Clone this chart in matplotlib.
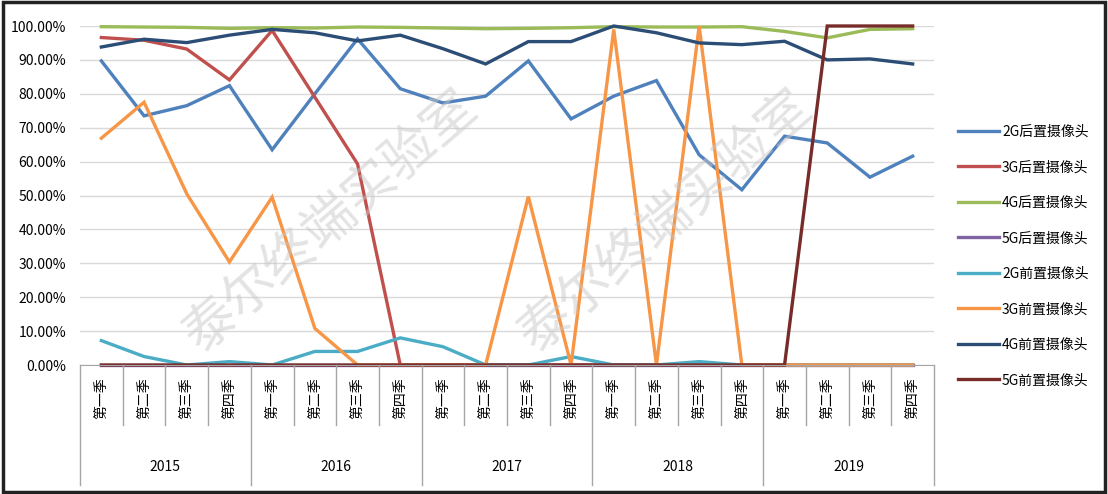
import matplotlib
matplotlib.use("Agg")
import matplotlib.pyplot as plt
import matplotlib.transforms as mtransforms
from matplotlib.ticker import FuncFormatter
from matplotlib.patches import Rectangle

plt.rcParams['font.family'] = ['Noto Sans CJK SC', 'DejaVu Sans']

years = ['2015', '2016', '2017', '2018', '2019']
quarters = ['第一季', '第二季', '第三季', '第四季']

# values in %, one per quarter 2015Q1 .. 2019Q4
rear_2g = [89.7, 73.5, 76.5, 82.4, 63.5, 80.0, 96.2, 81.5, 77.3, 79.3,
           89.7, 72.6, 79.3, 83.9, 62.0, 51.7, 67.5, 65.5, 55.4, 61.6]
rear_3g = [96.6, 95.8, 93.2, 84.1, 98.7, 79.0, 59.3, 0, 0, 0,
           0, 0, 0, 0, 0, 0, 0, 0, 0, 0]
rear_4g = [99.8, 99.7, 99.6, 99.3, 99.5, 99.4, 99.7, 99.6, 99.4, 99.2,
           99.3, 99.5, 99.8, 99.7, 99.7, 99.8, 98.4, 96.5, 99.0, 99.2]
rear_5g = [0] * 20
front_2g = [7.2, 2.5, 0, 1.0, 0, 4.0, 4.0, 8.0, 5.4, 0,
            0, 2.5, 0, 0, 1.0, 0, 0, 0, 0, 0]
front_3g = [66.9, 77.5, 50.5, 30.4, 49.5, 10.8, 0, 0, 0, 0,
            49.7, 0, 99.0, 0, 100.0, 0, 0, 0, 0, 0]
front_4g = [93.8, 96.1, 95.1, 97.3, 99.0, 98.0, 95.6, 97.3, 93.3, 88.8,
            95.4, 95.4, 100.0, 98.0, 95.0, 94.5, 95.5, 90.0, 90.3, 88.8]
front_5g = [0, 0, 0, 0, 0, 0, 0, 0, 0, 0,
            0, 0, 0, 0, 0, 0, 0, 100.0, 100.0, 100.0]

series = [
    ('2G后置摄像头', rear_2g, '#4F81BD'),
    ('3G后置摄像头', rear_3g, '#C0504D'),
    ('4G后置摄像头', rear_4g, '#9BBB59'),
    ('5G后置摄像头', rear_5g, '#8064A2'),
    ('2G前置摄像头', front_2g, '#4BACC6'),
    ('3G前置摄像头', front_3g, '#F79646'),
    ('4G前置摄像头', front_4g, '#2C4D75'),
    ('5G前置摄像头', front_5g, '#772C2A'),
]

fig = plt.figure(figsize=(11.08, 4.94), dpi=100)
ax = fig.add_axes([80 / 1108, 1 - 365 / 494, 854 / 1108, 339 / 494])

x = list(range(20))
for name, vals, col in series:
    ax.plot(x, [v / 100 for v in vals], color=col, lw=2.4, label=name,
            clip_on=False, solid_joinstyle='miter')

ax.set_xlim(-0.5, 19.5)
ax.set_ylim(0, 1.0)
ax.set_yticks([i / 10 for i in range(11)])
ax.yaxis.set_major_formatter(FuncFormatter(lambda v, p: '{:.2f}%'.format(v * 100)))
ax.tick_params(axis='y', length=0, labelsize=10, pad=10)
ax.grid(axis='y', color='#D9D9D9', lw=1)
ax.set_axisbelow(True)
for s in ['top', 'right', 'left']:
    ax.spines[s].set_visible(False)
ax.spines['bottom'].set_color('#A6A6A6')

# multi-level category axis
ax.set_xticks([])
trans = mtransforms.blended_transform_factory(ax.transData, ax.transAxes)
dy = 1 / 339
for i in range(20):
    ax.text(i, -12 * dy, quarters[i % 4], transform=trans, rotation=90,
            ha='center', va='top', fontsize=10)
for i in range(21):
    bottom = -120 * dy if i % 4 == 0 else -60 * dy
    ax.plot([i - 0.5, i - 0.5], [0, bottom], transform=trans, color='#A6A6A6',
            lw=1, clip_on=False)
for k, yr in enumerate(years):
    ax.text(4 * k + 1.5, -102 * dy, yr, transform=trans, ha='center',
            va='center', fontsize=10)

# watermark
for wx, wy in [(330 / 1108, 1 - 222 / 494), (665 / 1108, 1 - 222 / 494)]:
    fig.text(wx, wy, '泰尔终端实验室', rotation=41, fontsize=38, color='#C8C8C8',
             alpha=0.5, ha='center', va='center')

ax.legend(loc='center left', bbox_to_anchor=(952 / 1108, 1 - 256 / 494),
          bbox_transform=fig.transFigure, frameon=False, fontsize=10,
          handlelength=3, handletextpad=0.2, labelspacing=1.55, borderaxespad=0)

fig.patches.append(Rectangle((0.003, 0.005), 0.994, 0.99, transform=fig.transFigure,
                             fill=False, edgecolor='#222222', lw=2.5))

fig.savefig('out.png', dpi=100)
